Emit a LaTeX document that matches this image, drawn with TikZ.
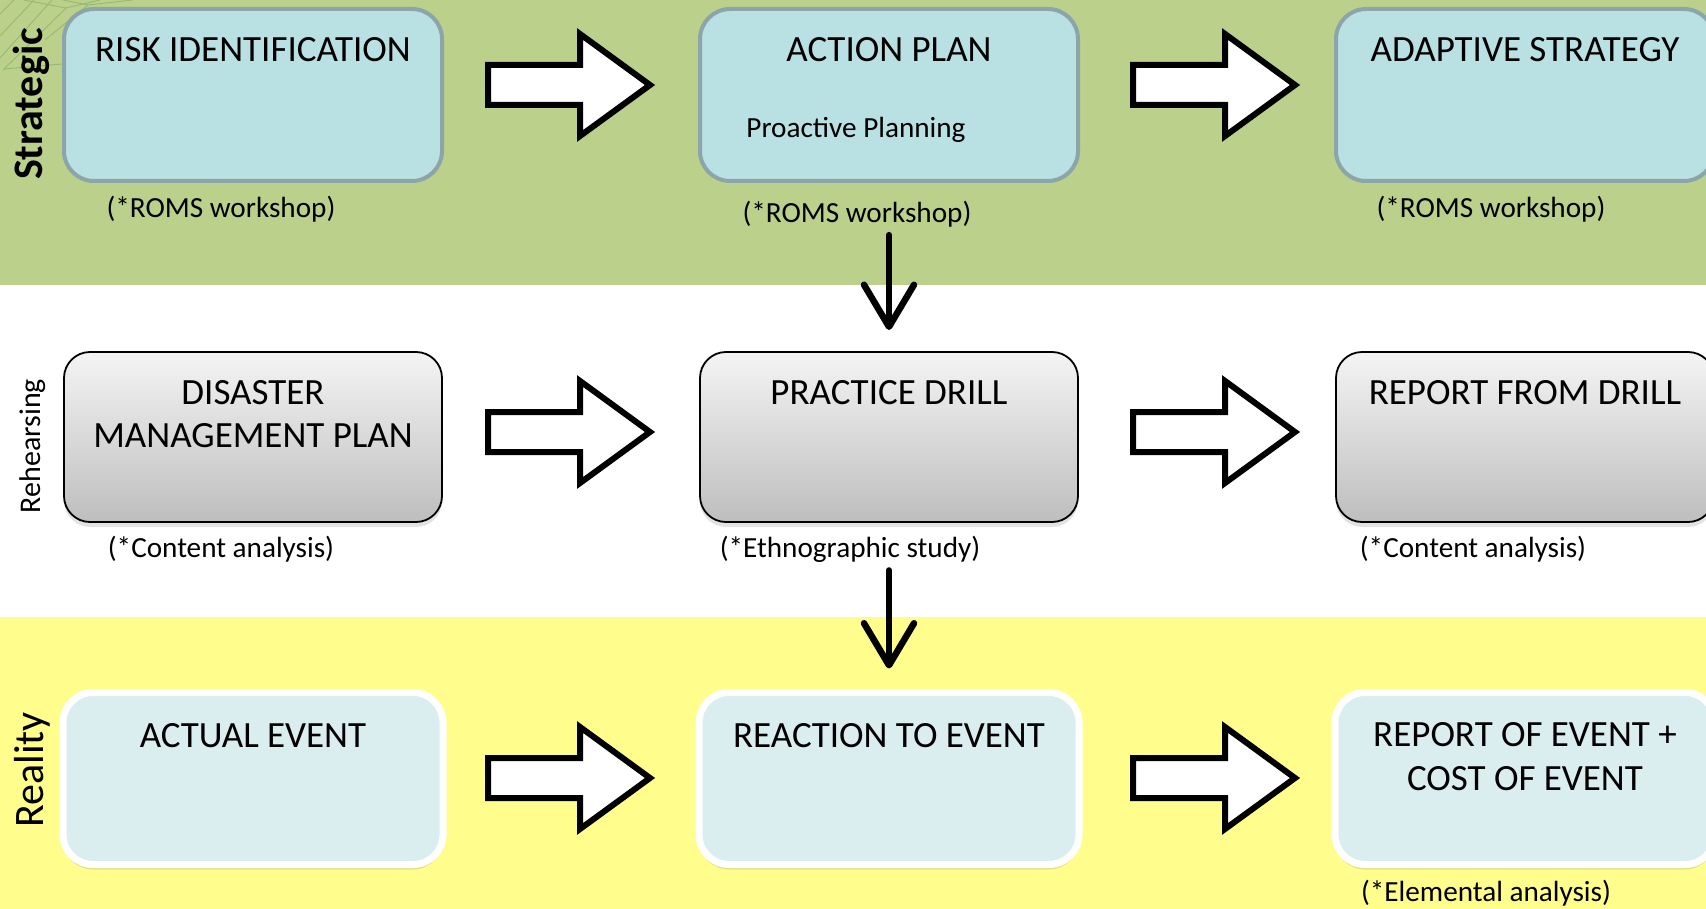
\documentclass[tikz,border=0pt]{standalone}
\usepackage{fontspec}
\setmainfont{Carlito}
\usetikzlibrary{arrows.meta,shadows,calc}
\definecolor{bandgreen}{RGB}{187,208,139}
\definecolor{bandyellow}{RGB}{255,253,139}
\definecolor{topfill}{RGB}{185,224,227}
\definecolor{topborder}{RGB}{140,165,168}
\definecolor{botfill}{RGB}{218,237,239}
\definecolor{graytop}{RGB}{244,244,244}
\definecolor{graybot}{RGB}{190,190,190}
\definecolor{decoline}{RGB}{150,186,112}
\tikzset{
  topbox/.style={draw=topborder, line width=2pt, fill=topfill, rounded corners=15pt,
    minimum width=189pt, minimum height=86pt, inner sep=0pt, outer sep=0pt},
  midbox/.style={draw=black, line width=0.9pt, top color=graytop, bottom color=graybot,
    rounded corners=13pt, minimum width=189pt, minimum height=85pt, inner sep=0pt, outer sep=0pt,
    drop shadow={shadow xshift=0pt, shadow yshift=-2.5pt, opacity=0.22}},
  botbox/.style={draw=white, line width=3.5pt, fill=botfill, rounded corners=15pt,
    minimum width=190pt, minimum height=86pt, inner sep=0pt, outer sep=0pt,
    drop shadow={shadow xshift=0pt, shadow yshift=-2.5pt, opacity=0.22}},
  boxtitle/.style={font=\fontsize{18.5}{21.75}\selectfont, anchor=base, align=center, inner sep=0pt},
  ann/.style={font=\fontsize{14.6}{17}\selectfont, anchor=base, inner sep=0pt},
  sidelbl/.style={rotate=90, anchor=base, inner sep=0pt},
  varrow/.style={line width=3.25pt, line cap=round,
    -{Straight Barb[length=21pt,width=25pt,line cap=round,line join=round]}},
  blockarrow/.pic={\draw[line width=3pt, fill=white, miter limit=10]
    (-82,-20) -- (10,-20) -- (10,-51) -- (80,0) -- (10,51) -- (10,20) -- (-82,20) -- cycle;}
}
\begin{document}
\begin{tikzpicture}[x=0.5pt, y=-0.5pt]
\useasboundingbox (0,0) rectangle (1706,909);
\clip (0,0) rectangle (1706,909);
% bands
\fill[bandgreen] (0,0) rectangle (1706,285);
\fill[white] (0,285) rectangle (1706,617);
\fill[bandyellow] (0,617) rectangle (1706,909);
% faint decoration top left
\draw[decoline, line width=0.45pt]
  (0,14) -- (14,0)
  (0,36) -- (34,0)
  (0,58) -- (52,0)
  (3,70) -- (66,8) -- (100,0)
  (63,0) -- (88,5) -- (132,0)
  (4,69) -- (62,64)
  (88,5) -- (45,40)
  (24,0) -- (66,8);
% side labels
\node[sidelbl, font=\bfseries\fontsize{21}{25}\selectfont] (lstrat) at (42,104) {Strategic};
\node[sidelbl, font=\fontsize{15}{18}\selectfont] (lreh) at (40,446) {Rehearsing};
\node[sidelbl, font=\fontsize{21}{25}\selectfont] (lreal) at (43,770) {Reality};
% top row
\node[topbox] (risk) at (253,95) {};
\node[topbox] (action) at (889,95) {};
\node[topbox] (adapt) at (1525,95) {};
\node[boxtitle] (riskt) at (253,62) {RISK IDENTIFICATION};
\node[boxtitle] (actiont) at (889,62) {ACTION PLAN};
\node[boxtitle] (adaptt) at (1525,62) {ADAPTIVE STRATEGY};
\node[ann, anchor=base west] (proact) at (746,138) {Proactive Planning};
\node[ann] (riska) at (221,218) {(*ROMS workshop)};
\node[ann] (actiona) at (857,222) {(*ROMS workshop)};
\node[ann] (adapta) at (1491,218) {(*ROMS workshop)};
% middle row
\node[midbox] (dmp) at (253,437) {};
\node[midbox] (drill) at (889,437) {};
\node[midbox] (rdrill) at (1525,437) {};
\node[boxtitle] (dmpt) at (253,447.5) {DISASTER\\MANAGEMENT PLAN};
\node[boxtitle] (drillt) at (889,404.5) {PRACTICE DRILL};
\node[boxtitle] (rdrillt) at (1525,404.5) {REPORT FROM DRILL};
\node[ann] (dmpa) at (221,557) {(*Content analysis)};
\node[ann] (drilla) at (850,557) {(*Ethnographic study)};
\node[ann] (rdrilla) at (1473,557) {(*Content analysis)};
% bottom row
\node[botbox] (event) at (253,778.5) {};
\node[botbox] (react) at (889,778.5) {};
\node[botbox] (revent) at (1525,778.5) {};
\node[boxtitle] (eventt) at (253,747) {ACTUAL EVENT};
\node[boxtitle] (reactt) at (889,747) {REACTION TO EVENT};
\node[boxtitle] (reventt) at (1525,790) {REPORT OF EVENT +\\COST OF EVENT};
\node[ann] (reventa) at (1486,901) {(*Elemental analysis)};
% block arrows
\pic at (570,85) {blockarrow};
\pic at (1215,85) {blockarrow};
\pic at (570,432) {blockarrow};
\pic at (1215,432) {blockarrow};
\pic at (570,778) {blockarrow};
\pic at (1215,778) {blockarrow};
% vertical arrows
\draw[varrow, shorten <=4pt, shorten >=11pt] (drill.north |- actiona.south) -- (drill.north);
\draw[varrow, shorten <=4pt, shorten >=12pt] (react.north |- drilla.south) -- (react.north);
\end{tikzpicture}
\end{document}
